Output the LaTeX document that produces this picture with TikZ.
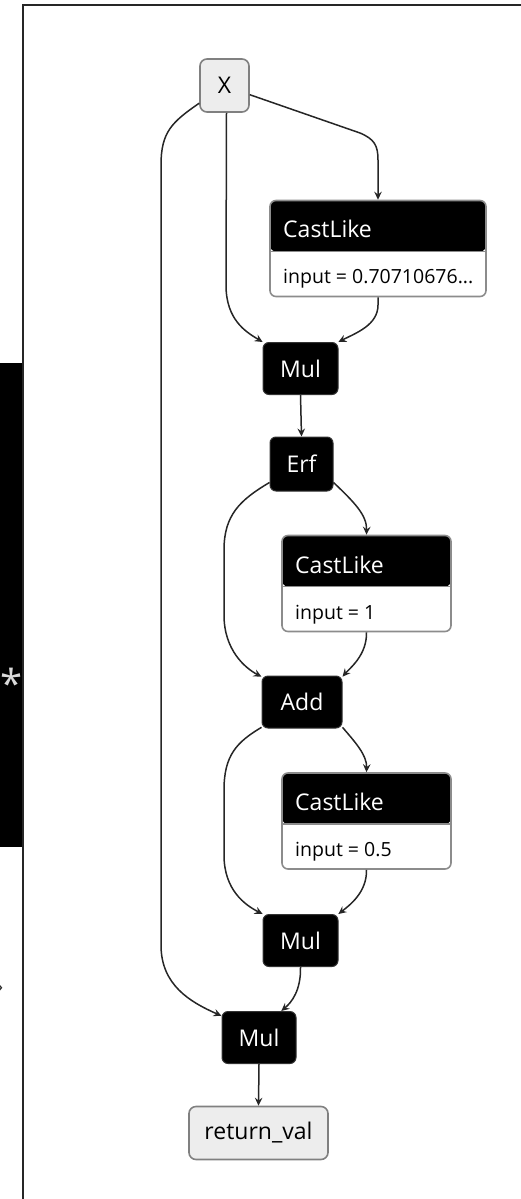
\documentclass[tikz,border=0pt]{standalone}
\usepackage{fontspec}
\setmainfont{Open Sans}
\usetikzlibrary{arrows.meta}
\newcommand{\lblfont}{\fontsize{23}{27}\selectfont}
\newcommand{\attrfont}{\fontsize{19.5}{23}\selectfont}
\begin{document}
\begin{tikzpicture}[x=1pt,y=-1pt,
  op/.style={fill=black, draw=black!80, line width=1pt, rounded corners=6pt, text=white, font=\lblfont, minimum height=52pt, inner sep=0pt},
  io/.style={fill=black!7, draw=black!50, line width=1.6pt, rounded corners=7pt, font=\lblfont, minimum height=53pt, inner sep=0pt},
  cast/.style={fill=white, draw=black!45, line width=1.6pt, rounded corners=6pt, inner sep=0pt, minimum height=96pt,
    path picture={\fill[black] (path picture bounding box.north west) rectangle ([yshift=-51pt]path picture bounding box.north east);
      \draw[black!45, line width=1.2pt] ([yshift=-51pt]path picture bounding box.north west) -- ([yshift=-51pt]path picture bounding box.north east);}},
  hdr/.style={anchor=base west, inner sep=0pt, text=white, font=\lblfont},
  attr/.style={anchor=base west, inner sep=0pt, text=black, font=\attrfont},
  edge/.style={draw=black!85, line width=1.5pt, -{Stealth[length=8pt,width=7.5pt,inset=2.8pt]}}
]
\useasboundingbox (0,0) rectangle (521,1199);
% frame and side bar
\draw[black!85, line width=1.6pt] (23,1210) -- (23,5) -- (530,5);
\fill[black] (-2,363) rectangle (22,847);
\node[text=black!15, font=\fontsize{40}{40}\selectfont, inner sep=0pt] (star) at (11.5,683) {*};
\node[text=black!85, font=\fontsize{20}{20}\selectfont, inner sep=0pt, anchor=east] (chev) at (3.5,989) {›};

% nodes
\node[io, minimum width=49pt] (x) at (224.5,85.5) {X};
\node[cast, minimum width=216pt] (c1) at (378,248.5) {};
\node[hdr] (c1t) at (283,237) {CastLike};
\node[attr] (c1a) at (283,283) {input = 0.70710676...};
\node[op, minimum width=75pt] (m1) at (300.5,368.5) {Mul};
\node[op, minimum width=63pt, minimum height=54pt] (erf) at (301.5,464) {Erf};
\node[cast, minimum width=169pt] (c2) at (366.5,583.5) {};
\node[hdr] (c2t) at (295,573) {CastLike};
\node[attr] (c2a) at (295,619) {input = 1};
\node[op, minimum width=80pt] (add) at (302,702) {Add};
\node[cast, minimum width=169pt] (c3) at (366.5,821) {};
\node[hdr] (c3t) at (295,810.5) {CastLike};
\node[attr] (c3a) at (295,856.5) {input = 0.5};
\node[op, minimum width=75pt] (m2) at (300.5,940.5) {Mul};
\node[op, minimum width=74pt] (m3) at (259,1037.5) {Mul};
\node[io, minimum width=139pt] (ret) at (258.5,1133) {return\_val};

% edges
\draw[edge] (x.-145) .. controls (172,122) and (161,132) .. (161,165) -- (161,945)
  .. controls (161,985) and (190,1002) .. (m3.150);
\draw[edge] ([xshift=2pt]x.south) -- (226,285) .. controls (226,320) and (246,332) .. (m1.145);
\draw[edge] (x.-20) -- (360,133) .. controls (374,139) and (378,145) .. (378,160) -- (c1.north);
\draw[edge] (c1.south) -- (378,305) .. controls (378,325) and (356,333) .. (m1.35);
\draw[edge] (m1.south) -- (erf.north);
\draw[edge] (erf.-30) .. controls (354,502) and (367,515) .. (c2.north);
\draw[edge] (erf.-150) .. controls (240,500) and (224,515) .. (224,550) -- (224,615)
  .. controls (224,650) and (245,668) .. (add.148);
\draw[edge] (c2.south) .. controls (367,655) and (350,668) .. (add.32);
\draw[edge] (add.-32) .. controls (355,742) and (367,755) .. (c3.north);
\draw[edge] (add.-148) .. controls (237,742) and (224,755) .. (224,790) -- (224,855)
  .. controls (224,890) and (245,905) .. (m2.145);
\draw[edge] (c3.south) .. controls (367,892) and (350,905) .. (m2.35);
\draw[edge] (m2.south) .. controls (301,990) and (292,1002) .. (m3.50);
\draw[edge] (m3.south) -- (ret.north);
\end{tikzpicture}
\end{document}
